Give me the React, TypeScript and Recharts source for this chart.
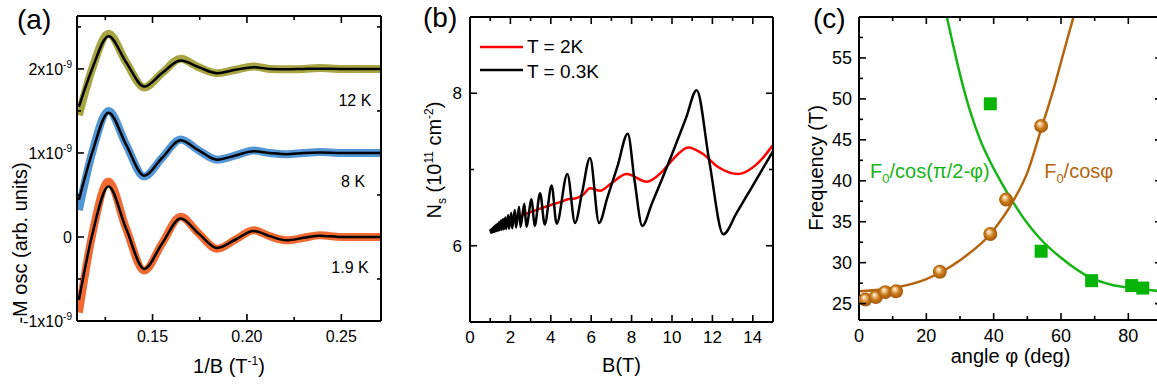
import React from "react";
import { ComposedChart, Line, Scatter, XAxis, YAxis, ReferenceDot, Legend, Label } from "recharts";

const FONT = '"Liberation Sans", Arial, Helvetica, sans-serif';
const PHI = "\u03c6";
const PI = "\u03c0";

// ---------- (a) oscillations vs 1/B, values in units of 1e-9 ----------
const A_INV_B = [0.111, 0.118, 0.1267, 0.136, 0.1456, 0.155, 0.1649, 0.1745, 0.1842, 0.194, 0.2035, 0.212, 0.221, 0.23, 0.2386, 0.25, 0.271];
const A_FIT_12K = [1.55, 2.0, 2.39, 2.08, 1.79, 1.95, 2.1, 2.02, 1.95, 1.99, 2.02, 2.0, 1.995, 2.0, 2.003, 2.0, 2.0];
const A_FIT_8K = [0.44, 1.0, 1.48, 1.1, 0.73, 0.94, 1.15, 1.03, 0.92, 0.97, 1.02, 1.0, 0.985, 1.0, 1.005, 1.0, 1.0];
const A_FIT_1P9K = [-0.75, 0.02, 0.6, 0.1, -0.38, -0.08, 0.22, 0.04, -0.13, -0.03, 0.07, 0.01, -0.04, -0.01, 0.016, 0.0, 0.0];
const A_DATA_12K = [1.45, 2.0, 2.42, 2.08, 1.78, 1.95, 2.12, 2.02, 1.95, 1.99, 2.03, 2.0, 1.995, 2.0, 2.01, 2.0, 2.0];
const A_DATA_8K = [0.32, 1.0, 1.5, 1.1, 0.72, 0.94, 1.16, 1.03, 0.92, 0.97, 1.03, 1.0, 0.985, 1.0, 1.01, 1.0, 1.0];
const A_DATA_1P9K = [-0.9, 0.02, 0.66, 0.1, -0.4, -0.08, 0.24, 0.04, -0.14, -0.03, 0.08, 0.01, -0.04, -0.01, 0.02, 0.0, 0.0];
const A_XTICKS = [0.125, 0.15, 0.175, 0.2, 0.225, 0.25];
const A_XLABELS = [0.15, 0.2, 0.25];
const A_YTICKS = [-1, -0.5, 0, 0.5, 1, 1.5, 2, 2.5];
const A_YLABELS = [-1, 0, 1, 2];

// ---------- (b) Ns vs B ----------
const B_FIELD_03K = [1.0, 1.03, 1.042, 1.075, 1.088, 1.12, 1.134, 1.18, 1.196, 1.235, 1.252, 1.3, 1.319, 1.37, 1.391, 1.45, 1.473, 1.54, 1.567, 1.64, 1.67, 1.75, 1.786, 1.89, 1.93, 2.04, 2.088, 2.22, 2.278, 2.43, 2.5, 2.69, 2.79, 3.05, 3.2, 3.47, 3.7, 4.04, 4.29, 4.82, 5.2, 5.55, 5.94, 6.39, 6.8, 7.3, 7.81, 8.15, 8.53, 9.0, 10.0, 10.7, 11.22, 11.85, 12.54, 13.2, 14.0, 15.0];
const B_NS_03K = [6.19, 6.21, 6.17, 6.22, 6.175, 6.23, 6.18, 6.245, 6.185, 6.26, 6.19, 6.275, 6.195, 6.29, 6.2, 6.31, 6.205, 6.33, 6.21, 6.35, 6.215, 6.37, 6.22, 6.4, 6.225, 6.43, 6.23, 6.47, 6.24, 6.51, 6.245, 6.55, 6.25, 6.61, 6.26, 6.69, 6.28, 6.79, 6.29, 6.94, 6.3, 6.7, 7.15, 6.3, 6.63, 7.04, 7.47, 6.85, 6.26, 6.55, 7.2, 7.68, 8.04, 7.1, 6.15, 6.43, 6.79, 7.24];
const B_FIELD_2K = [1.0, 1.5, 2.0, 2.5, 3.0, 3.5, 4.0, 4.5, 4.85, 5.2, 5.6, 5.94, 6.44, 7.0, 7.76, 8.75, 9.5, 10.0, 10.81, 11.5, 12.3, 13.28, 14.2, 15.0];
const B_NS_2K = [6.18, 6.25, 6.32, 6.39, 6.44, 6.49, 6.535, 6.575, 6.61, 6.62, 6.67, 6.755, 6.72, 6.82, 6.94, 6.84, 6.97, 7.12, 7.29, 7.21, 7.03, 6.94, 7.07, 7.32];
const B_XTICKS = [0, 1, 2, 3, 4, 5, 6, 7, 8, 9, 10, 11, 12, 13, 14, 15];
const B_XLABELS = [0, 2, 4, 6, 8, 10, 12, 14];
const B_YTICKS = [5, 6, 7, 8, 9];
const B_YLABELS = [6, 8];

// ---------- (c) frequency vs angle ----------
const C_CIRCLE_ANGLE = [1.9, 5.0, 7.8, 11.0, 24.0, 39.0, 43.7, 54.1];
const C_CIRCLE_FREQ = [25.5, 25.8, 26.4, 26.5, 28.9, 33.5, 37.7, 46.7];
const C_SQUARE_ANGLE = [39.0, 54.1, 69.1, 81.0, 84.3];
const C_SQUARE_FREQ = [49.4, 31.4, 27.8, 27.2, 26.9];
const C_COS_ANGLE = [0, 10, 20, 30, 39, 45.9, 50, 54.1, 58, 61, 63.7];
const C_COS_FREQ = [26.5, 26.9, 28.0, 30.3, 33.5, 37.6, 41.0, 46.3, 51.5, 56.0, 60.0];
const C_SIN_ANGLE = [26.1, 28, 30, 33, 36, 39, 42, 45.9, 50, 54.1, 60, 69.1, 75, 81, 90];
const C_SIN_FREQ = [60.0, 56.5, 53.0, 48.5, 45.0, 42.3, 40.0, 37.3, 34.8, 32.8, 30.6, 28.1, 27.3, 26.9, 26.5];
const C_XTICKS = [0, 10, 20, 30, 40, 50, 60, 70, 80];
const C_XLABELS = [0, 20, 40, 60, 80];
const C_YTICKS = [25, 27.5, 30, 32.5, 35, 37.5, 40, 42.5, 45, 47.5, 50, 52.5, 55, 57.5];
const C_YLABELS = [25, 30, 35, 40, 45, 50, 55];

const pts = (xs: number[], ys: number[]) => xs.map((x, i) => ({ x, y: ys[i] }));

type Side = "left" | "right" | "top" | "bottom";
const near = (a: number, b: number) => Math.abs(a - b) < 1e-6;

// inward tick marks, long on labelled values
function axisTick(side: Side, majors: number[], fmt: ((v: number) => React.ReactNode) | null, fontSize = 16, gap = 6) {
  return (props: any) => {
    const { x, y, payload } = props;
    const v = payload.value as number;
    const major = majors.some((m) => near(m, v));
    const len = major ? 7 : 4;
    const dx = side === "left" ? len : side === "right" ? -len : 0;
    const dy = side === "bottom" ? -len : side === "top" ? len : 0;
    let text: React.ReactNode = null;
    if (major && fmt) {
      if (side === "left") {
        text = (
          <text x={x - gap} y={y} dy="0.36em" textAnchor="end" fontSize={fontSize} fontFamily={FONT} fill="#000">
            {fmt(v)}
          </text>
        );
      } else if (side === "bottom") {
        text = (
          <text x={x} y={y + gap} textAnchor="middle" fontSize={fontSize} fontFamily={FONT} fill="#000">
            {fmt(v)}
          </text>
        );
      }
    }
    return (
      <g>
        <line x1={x} y1={y} x2={x + dx} y2={y + dy} stroke="#000" strokeWidth={1.6} />
        {text}
      </g>
    );
  };
}

const frame = {
  type: "number" as const,
  allowDataOverflow: true,
  axisLine: { stroke: "#000", strokeWidth: 2 },
  tickLine: false,
  tickSize: 0,
  tickMargin: 0,
  interval: 0 as const,
};

const xTitle = (dyBase: number, body: React.ReactNode) => (p: any) => {
  const vb = p.viewBox;
  return (
    <text x={vb.x + vb.width / 2} y={vb.y + dyBase} textAnchor="middle" fontSize={20} fontFamily={FONT} fill="#000">
      {body}
    </text>
  );
};

const yTitle = (bx: number, cy: number, body: React.ReactNode) => (p: any) => {
  const vb = p.viewBox;
  const x = vb.x + bx;
  const y = vb.y + cy;
  return (
    <text x={x} y={y} transform={`rotate(-90, ${x}, ${y})`} textAnchor="middle" fontSize={20} fontFamily={FONT} fill="#000">
      {body}
    </text>
  );
};

const note = (body: React.ReactNode, color: string, size: number, anchor: "start" | "middle" = "middle") => (p: any) => (
  <text x={p.cx} y={p.cy} dy={anchor === "middle" ? "0.36em" : 0} textAnchor={anchor} fontSize={size} fontFamily={FONT} fill={color}>
    {body}
  </text>
);

const fmtA = (v: number) => v.toFixed(2);
const fmtAy = (v: number) =>
  v === 0 ? (
    "0"
  ) : (
    <>
      {v}x10
      <tspan dy={-7} fontSize={10}>
        -9
      </tspan>
    </>
  );
const fmtPlain = (v: number) => String(v);

function PanelA() {
  const series = [
    { data: A_DATA_12K, fit: A_FIT_12K, color: "#9d9b2e" },
    { data: A_DATA_8K, fit: A_FIT_8K, color: "#3f8bd2" },
    { data: A_DATA_1P9K, fit: A_FIT_1P9K, color: "#ee5a1c" },
  ];
  return (
    <ComposedChart width={390} height={386} margin={{ top: 15, right: 8, bottom: 0, left: 0 }}>
      <XAxis {...frame} xAxisId="b" dataKey="x" orientation="bottom" height={65} domain={[0.11, 0.271]} ticks={A_XTICKS} tick={axisTick("bottom", A_XLABELS, fmtA, 16, 21)}>
        <Label
          content={xTitle(
            52,
            <>
              1/B (T
              <tspan dy={-8} fontSize={12}>
                -1
              </tspan>
              <tspan dy={8}>)</tspan>
            </>
          )}
        />
      </XAxis>
      <XAxis {...frame} xAxisId="t" dataKey="x" orientation="top" height={1} domain={[0.11, 0.271]} ticks={A_XTICKS} tick={axisTick("top", A_XLABELS, null)} />
      <YAxis {...frame} yAxisId="l" dataKey="y" width={77} domain={[-1, 2.63]} ticks={A_YTICKS} tick={axisTick("left", A_YLABELS, fmtAy, 16, 5)}>
        <Label content={yTitle(27, 227, "-M osc (arb. units)")} />
      </YAxis>
      <YAxis {...frame} yAxisId="r" dataKey="y" orientation="right" width={1} domain={[-1, 2.63]} ticks={A_YTICKS} tick={axisTick("right", A_YLABELS, null)} />
      {series.map((s, i) => (
        <Line key={`d${i}`} xAxisId="b" yAxisId="l" data={pts(A_INV_B, s.data)} dataKey="y" type="monotone" stroke={s.color} strokeWidth={8} strokeOpacity={0.9} strokeLinejoin="round" dot={false} isAnimationActive={false} />
      ))}
      {series.map((s, i) => (
        <Line key={`f${i}`} xAxisId="b" yAxisId="l" data={pts(A_INV_B, s.fit)} dataKey="y" type="monotone" stroke="#000" strokeWidth={2.5} dot={false} isAnimationActive={false} />
      ))}
      <ReferenceDot xAxisId="b" yAxisId="l" x={0.2572} y={1.63} r={1} shape={note("12 K", "#000", 16)} />
      <ReferenceDot xAxisId="b" yAxisId="l" x={0.2562} y={0.667} r={1} shape={note("8 K", "#000", 16)} />
      <ReferenceDot xAxisId="b" yAxisId="l" x={0.2546} y={-0.357} r={1} shape={note("1.9 K", "#000", 16)} />
    </ComposedChart>
  );
}

const LegendB = () => (
  <svg width={200} height={50}>
    <line x1={0} y1={12} x2={43} y2={12} stroke="#f00" strokeWidth={2.5} />
    <text x={47} y={18} fontSize={19} fontFamily={FONT} fill="#000">
      T = 2K
    </text>
    <line x1={0} y1={35} x2={43} y2={35} stroke="#000" strokeWidth={2.5} />
    <text x={47} y={43} fontSize={19} fontFamily={FONT} fill="#000">
      T = 0.3K
    </text>
  </svg>
);

function PanelB() {
  return (
    <ComposedChart width={400} height={386} margin={{ top: 16, right: 16, bottom: 0, left: 0 }}>
      <XAxis {...frame} xAxisId="b" dataKey="x" orientation="bottom" height={64} domain={[0, 15]} ticks={B_XTICKS} tick={axisTick("bottom", B_XLABELS, fmtPlain, 17, 21)}>
        <Label content={xTitle(50, "B(T)")} />
      </XAxis>
      <XAxis {...frame} xAxisId="t" dataKey="x" orientation="top" height={1} domain={[0, 15]} ticks={B_XTICKS} tick={axisTick("top", B_XLABELS, null)} />
      <YAxis {...frame} yAxisId="l" dataKey="y" width={80} domain={[5, 9]} ticks={B_YTICKS} tick={axisTick("left", B_YLABELS, fmtPlain, 17, 8)}>
        <Label
          content={yTitle(
            51,
            143,
            <>
              N
              <tspan dy={5} fontSize={12}>
                s
              </tspan>
              <tspan dy={-5}> (10</tspan>
              <tspan dy={-8} fontSize={12}>
                11
              </tspan>
              <tspan dy={8}> cm</tspan>
              <tspan dy={-8} fontSize={12}>
                -2
              </tspan>
              <tspan dy={8}>)</tspan>
            </>
          )}
        />
      </YAxis>
      <YAxis {...frame} yAxisId="r" dataKey="y" orientation="right" width={1} domain={[5, 9]} ticks={B_YTICKS} tick={axisTick("right", B_YLABELS, null)} />
      <Line xAxisId="b" yAxisId="l" name="T = 2K" data={pts(B_FIELD_2K, B_NS_2K)} dataKey="y" type="monotone" stroke="#f00" strokeWidth={2.5} dot={false} isAnimationActive={false} />
      <Line xAxisId="b" yAxisId="l" name="T = 0.3K" data={pts(B_FIELD_03K, B_NS_03K)} dataKey="y" type="monotone" stroke="#000" strokeWidth={2.5} dot={false} isAnimationActive={false} />
      <Legend layout="vertical" align="center" verticalAlign="middle" wrapperStyle={{ left: 90, top: 35, width: 200, height: 50 }} content={() => <LegendB />} />
    </ComposedChart>
  );
}

const Sphere = (p: any) => <circle cx={p.cx} cy={p.cy} r={7} fill="url(#sphereGrad)" />;
const Square = (p: any) => <rect x={p.cx - 6.5} y={p.cy - 6.5} width={13} height={13} fill="#08b408" />;

function PanelC() {
  return (
    <ComposedChart width={390} height={386} margin={{ top: 16, right: 7, bottom: 0, left: 0 }}>
      <defs>
        <radialGradient id="sphereGrad" cx="50%" cy="50%" r="55%" fx="38%" fy="32%">
          <stop offset="0%" stopColor="#fffdf8" />
          <stop offset="22%" stopColor="#f1c88f" />
          <stop offset="55%" stopColor="#c87818" />
          <stop offset="100%" stopColor="#9a520a" />
        </radialGradient>
      </defs>
      <XAxis {...frame} xAxisId="b" dataKey="x" orientation="bottom" height={66} domain={[0, 90]} ticks={C_XTICKS} tick={axisTick("bottom", C_XLABELS, fmtPlain, 18, 22)}>
        <Label content={xTitle(43, `angle ${PHI} (deg)`)} />
      </XAxis>
      <XAxis {...frame} xAxisId="t" dataKey="x" orientation="top" height={1} domain={[0, 90]} ticks={C_XTICKS} tick={axisTick("top", C_XLABELS, null)} />
      <YAxis {...frame} yAxisId="l" dataKey="y" width={79} domain={[23, 60]} ticks={C_YTICKS} tick={axisTick("left", C_YLABELS, fmtPlain, 18, 7)}>
        <Label content={yTitle(43, 151, "Frequency (T)")} />
      </YAxis>
      <YAxis {...frame} yAxisId="r" dataKey="y" orientation="right" width={1} domain={[23, 60]} ticks={C_YTICKS} tick={axisTick("right", C_YLABELS, null)} />
      <Line xAxisId="b" yAxisId="l" data={pts(C_SIN_ANGLE, C_SIN_FREQ)} dataKey="y" type="monotone" stroke="#16b416" strokeWidth={2.5} dot={false} isAnimationActive={false} />
      <Line xAxisId="b" yAxisId="l" data={pts(C_COS_ANGLE, C_COS_FREQ)} dataKey="y" type="monotone" stroke="#b5650f" strokeWidth={2.5} dot={false} isAnimationActive={false} />
      <Scatter xAxisId="b" yAxisId="l" data={pts(C_SQUARE_ANGLE, C_SQUARE_FREQ)} dataKey="y" shape={Square} isAnimationActive={false} />
      <Scatter xAxisId="b" yAxisId="l" data={pts(C_CIRCLE_ANGLE, C_CIRCLE_FREQ)} dataKey="y" shape={Sphere} isAnimationActive={false} />
      <ReferenceDot
        xAxisId="b"
        yAxisId="l"
        x={3.3}
        y={40.3}
        r={1}
        shape={note(
          <>
            F
            <tspan dy={5} fontSize={13}>
              0
            </tspan>
            <tspan dy={-5}>{`/cos(${PI}/2-${PHI})`}</tspan>
          </>,
          "#16b416",
          20,
          "start"
        )}
      />
      <ReferenceDot
        xAxisId="b"
        yAxisId="l"
        x={55}
        y={40.3}
        r={1}
        shape={note(
          <>
            F
            <tspan dy={5} fontSize={13}>
              0
            </tspan>
            <tspan dy={-5}>{`/cos${PHI}`}</tspan>
          </>,
          "#b5650f",
          20,
          "start"
        )}
      />
    </ComposedChart>
  );
}

export default function App() {
  return (
    <div style={{ position: "fixed", left: 0, top: 0, width: 1157, height: 386, overflow: "hidden", background: "#fff", fontFamily: FONT }}>
      <div style={{ position: "absolute", left: 0, top: 0 }}>
        <PanelA />
      </div>
      <div style={{ position: "absolute", left: 390, top: 0 }}>
        <PanelB />
      </div>
      <div style={{ position: "absolute", left: 780, top: 0 }}>
        <PanelC />
      </div>
      <svg width={1157} height={386} style={{ position: "absolute", left: 0, top: 0, pointerEvents: "none" }}>
        <text x={17} y={29} fontSize={28} fontFamily={FONT} fill="#000">(a)</text>
        <text x={423} y={27} fontSize={28} fontFamily={FONT} fill="#000">(b)</text>
        <text x={813} y={28} fontSize={28} fontFamily={FONT} fill="#000">(c)</text>
      </svg>
    </div>
  );
}
